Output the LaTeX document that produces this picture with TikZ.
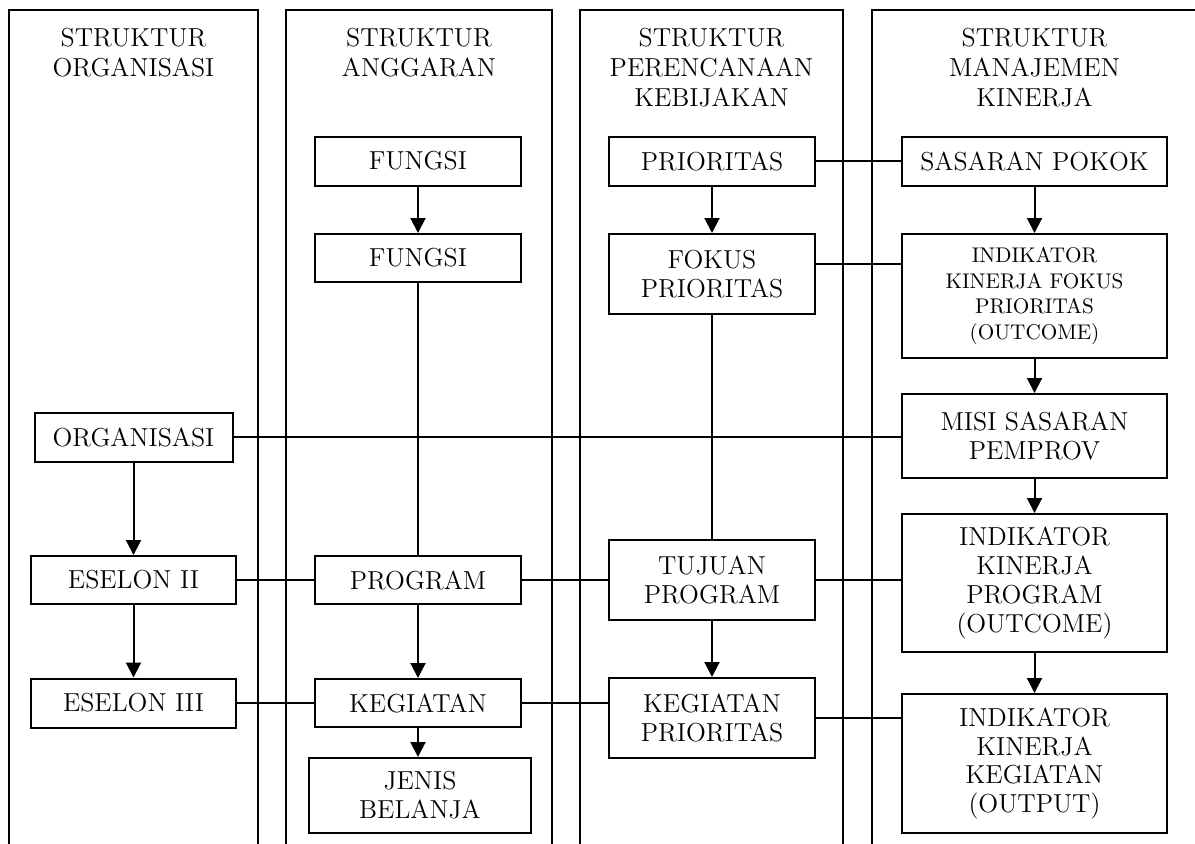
\documentclass[tikz,border=0pt]{standalone}
\usetikzlibrary{arrows.meta,positioning,calc}
\newcommand{\boxfont}{\fontsize{13}{14.4}\selectfont}
\newcommand{\headfont}{\fontsize{13}{15}\selectfont}
\newcommand{\tinyboxfont}{\fontsize{10.6}{12.8}\selectfont}
\tikzset{
  lane/.style    = {draw, line width=1pt},
  lanehead/.style = {anchor=north, align=center, inner sep=0pt, font=\headfont},
  box/.style     = {draw, line width=1pt, align=center, inner sep=0pt, font=\boxfont},
  narrow/.style  = {box, minimum width=103pt},
  wide/.style    = {box, minimum width=132.5pt},
  link/.style    = {line width=1pt},
  flow/.style    = {link, -{Triangle[length=7.5pt,width=7.5pt]}}
}
\begin{document}
\begin{tikzpicture}[x=0.5pt,y=-0.5pt]
\useasboundingbox (0,0) rectangle (1195,843);
\clip (0,0) rectangle (1195,843);

% --- swim lanes (open at the bottom) ---
\foreach \xa/\xb in {9/258, 286/552, 580/843, 872/1230}{
  \draw[lane] (\xa,870) -- (\xa,10) -- (\xb,10) -- (\xb,870);
}

% --- lane headers ---
\node[lanehead] (headorg) at (133.5,28) {STRUKTUR\\ORGANISASI};
\node[lanehead] (headang) at (419,28) {STRUKTUR\\ANGGARAN};
\node[lanehead] (headkeb) at (711.5,28) {STRUKTUR\\PERENCANAAN\\KEBIJAKAN};
\node[lanehead] (headkin) at (1034.5,28) {STRUKTUR\\MANAJEMEN\\KINERJA};

% --- organisasi ---
\node[box, minimum width=99pt, minimum height=24.5pt] (organisasi) at (133.5,437) {ORGANISASI};
\node[box, minimum width=102.5pt, minimum height=24pt] (eselonII) at (133.5,580) {ESELON II};
\node[box, minimum width=102.5pt, minimum height=24.5pt] (eselonIII) at (133.5,703) {ESELON III};

% --- anggaran ---
\node[narrow, minimum height=24.5pt] (fungsiA) at (418,161) {FUNGSI};
\node[narrow, minimum height=24pt] (fungsiB) at (418,258) {FUNGSI};
\node[narrow, minimum height=24pt] (program) at (418,580) {PROGRAM};
\node[narrow, minimum height=24pt] (kegiatan) at (418,703) {KEGIATAN};
\node[box, minimum width=111pt, minimum height=37.5pt] (jenis) at (420,795.5) {JENIS\\BELANJA};

% --- perencanaan kebijakan ---
\node[narrow, minimum height=24.5pt] (prioritas) at (712,161) {PRIORITAS};
\node[narrow, minimum height=40pt] (fokus) at (712,274) {FOKUS\\PRIORITAS};
\node[narrow, minimum height=40pt] (tujuan) at (712,580) {TUJUAN\\PROGRAM};
\node[narrow, minimum height=40pt] (kegprior) at (712,718) {KEGIATAN\\PRIORITAS};

% --- manajemen kinerja ---
\node[wide, minimum height=24.5pt] (sasaran) at (1034.5,161) {SASARAN POKOK};
\node[wide, minimum height=62pt, font=\tinyboxfont] (ikfp) at (1034.5,296) {INDIKATOR\\KINERJA FOKUS\\PRIORITAS\\(OUTCOME)};
\node[wide, minimum height=42pt] (misi) at (1034.5,436) {MISI SASARAN\\PEMPROV};
\node[wide, minimum height=69pt] (ikp) at (1034.5,583) {INDIKATOR\\KINERJA\\PROGRAM\\(OUTCOME)};
\node[wide, minimum height=69.5pt] (ikk) at (1034.5,763.5) {INDIKATOR\\KINERJA\\KEGIATAN\\(OUTPUT)};

% --- arrows down each lane ---
\draw[flow] (organisasi) -- (eselonII);
\draw[flow] (eselonII) -- (eselonIII);
\draw[flow] (fungsiA) -- (fungsiB);
\draw[flow] (program) -- (kegiatan);
\draw[flow] (kegiatan.south) -- (kegiatan.south |- jenis.north);
\draw[flow] (prioritas) -- (fokus);
\draw[flow] (tujuan) -- (kegprior);
\draw[flow] (sasaran) -- (ikfp);
\draw[flow] (ikfp) -- (misi);
\draw[flow] (misi) -- (ikp);
\draw[flow] (ikp) -- (ikk);

% --- plain links ---
\draw[link] (fungsiB) -- (program);
\draw[link] (fokus) -- (tujuan);
\draw[link] (prioritas) -- (sasaran);
\draw[link] ($(fokus.north east)+(0,31)$) -- ($(ikfp.north west)+(0,31)$);
\draw[link] (organisasi.east) -- (organisasi.east -| misi.west);
\draw[link] (eselonII) -- (program);
\draw[link] (program) -- (tujuan);
\draw[link] (tujuan.east) -- (tujuan.east -| ikp.west);
\draw[link] (eselonIII) -- (kegiatan);
\draw[link] (kegiatan.east) -- (kegiatan.east -| kegprior.west);
\draw[link] (kegprior.east) -- (kegprior.east -| ikk.west);

\end{tikzpicture}
\end{document}
